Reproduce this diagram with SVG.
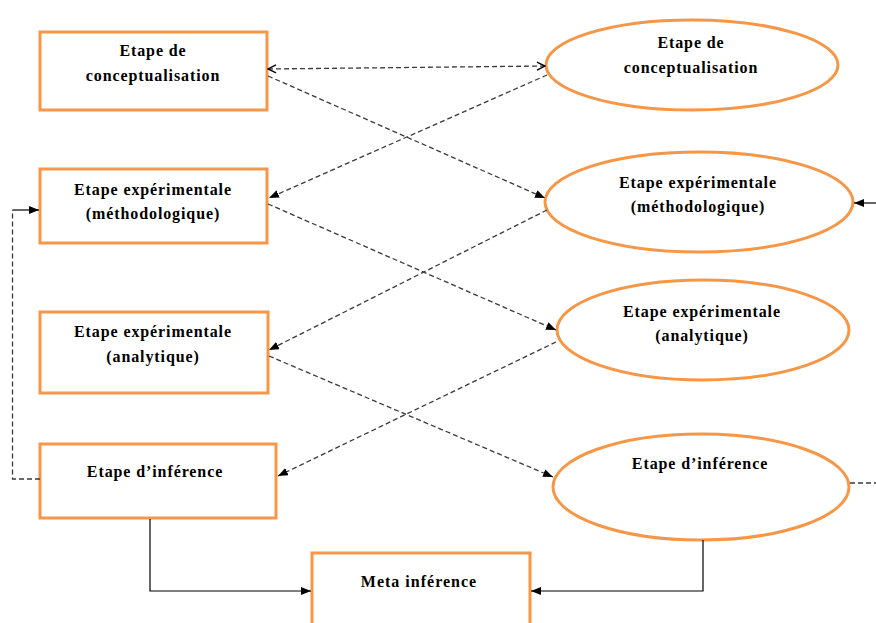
<svg xmlns="http://www.w3.org/2000/svg" width="876" height="623" viewBox="0 0 876 623">
<style>
.n{fill:#fff;stroke:#F79646;stroke-width:3}
.t{font-family:"Liberation Serif","Times New Roman",serif;font-weight:bold;font-size:16px;letter-spacing:0.9px;text-anchor:middle;fill:#000}
.d{fill:none;stroke:#3a3a3a;stroke-width:1.3;stroke-dasharray:5 3}
.s{fill:none;stroke:#000;stroke-width:1.2}
</style>
<defs>
<marker id="tri" markerUnits="userSpaceOnUse" markerWidth="10" markerHeight="8" refX="10" refY="4" orient="auto"><path d="M0,0 L10,4 L0,8 z" fill="#000"/></marker>
<marker id="opn" markerUnits="userSpaceOnUse" markerWidth="10" markerHeight="10" refX="9" refY="5" orient="auto-start-reverse"><path d="M1,1 L9,5 L1,9" fill="none" stroke="#000" stroke-width="1.4"/></marker>
</defs>
<g id="box-conceptualisation"><rect class="n" x="40" y="32" width="227" height="78"/><text class="t" x="153" y="56">Etape de</text><text class="t" x="153" y="81">conceptualisation</text></g>
<g id="box-methodologique"><rect class="n" x="40" y="169" width="227" height="74"/><text class="t" x="153" y="195">Etape expérimentale</text><text class="t" x="153" y="219">(méthodologique)</text></g>
<g id="box-analytique"><rect class="n" x="40" y="312" width="228" height="81"/><text class="t" x="153" y="337">Etape expérimentale</text><text class="t" x="153" y="362">(analytique)</text></g>
<g id="box-inference"><rect class="n" x="40" y="444" width="236" height="74"/><text class="t" x="155" y="477">Etape d’inférence</text></g>
<g id="box-meta"><rect class="n" x="312" y="553" width="218" height="80"/><text class="t" x="419" y="587" style="letter-spacing:1px">Meta inférence</text></g>
<g id="ell-conceptualisation"><ellipse class="n" cx="692" cy="65" rx="146" ry="45"/><text class="t" x="691" y="48">Etape de</text><text class="t" x="691" y="73">conceptualisation</text></g>
<g id="ell-methodologique"><ellipse class="n" cx="699" cy="202" rx="154" ry="50"/><text class="t" x="698" y="188">Etape expérimentale</text><text class="t" x="698" y="212">(méthodologique)</text></g>
<g id="ell-analytique"><ellipse class="n" cx="703" cy="330" rx="146" ry="50"/><text class="t" x="702" y="317">Etape expérimentale</text><text class="t" x="702" y="341">(analytique)</text></g>
<g id="ell-inference"><ellipse class="n" cx="701" cy="487" rx="148" ry="53"/><text class="t" x="700" y="469">Etape d’inférence</text></g>
<g id="connectors">
<path class="d" d="M268,69 L545,66" marker-start="url(#opn)" marker-end="url(#opn)"/>
<path class="d" d="M268,76 L545,198" marker-end="url(#tri)"/>
<path class="d" d="M547,75 L269,198" marker-end="url(#tri)"/>
<path class="d" d="M268,204 L556,330" marker-end="url(#tri)"/>
<path class="d" d="M547,210 L269,350" marker-end="url(#tri)"/>
<path class="d" d="M269,356 L553,477" marker-end="url(#tri)"/>
<path class="d" d="M556,342 L278,476" marker-end="url(#tri)"/>
<path class="d" d="M40,479 L12.5,479 L12.5,210"/>
<path class="s" d="M12.5,210 L39,210" marker-end="url(#tri)"/>
<path class="s" d="M876,203 L854,203" marker-end="url(#tri)"/>
<path class="d" d="M850,483 L876,483"/>
<path class="s" d="M150,519 L150,591 L311,591" marker-end="url(#tri)"/>
<path class="s" d="M703,540 L703,591 L531,591" marker-end="url(#tri)"/>
</g>
</svg>
